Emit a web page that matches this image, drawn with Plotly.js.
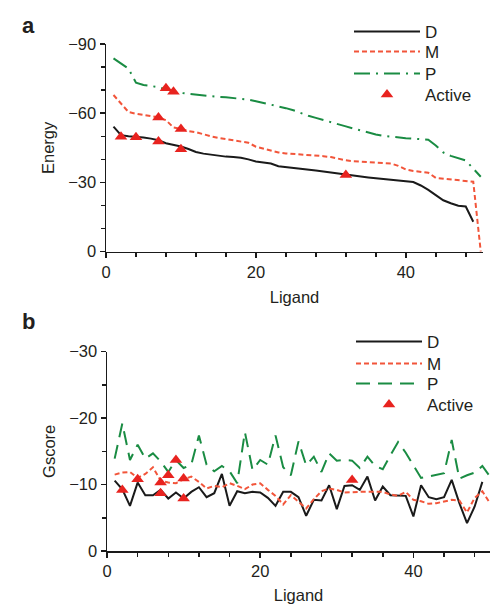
<!DOCTYPE html>
<html>
<head>
<meta charset="utf-8">
<script src="https://cdn.plot.ly/plotly-3.0.1.min.js"></script>
<style>
html,body{margin:0;padding:0;background:#fff;}
#chart{width:495px;height:604px;}
</style>
</head>
<body>
<div id="chart"></div>
<script>
// ---------- Panel a : Energy ----------
const ligandD = [1,2,3,4,5,6,7,8,9,10,11,12,13,14,15,16,17,18,19,20,21,22,23,24,25,26,27,28,29,30,31,32,33,34,35,36,37,38,39,40,41,42,43,44,45,46,47,48,49];
const ligandMP = [1,2,3,4,5,6,7,8,9,10,11,12,13,14,15,16,17,18,19,20,21,22,23,24,25,26,27,28,29,30,31,32,33,34,35,36,37,38,39,40,41,42,43,44,45,46,47,48,49,50];

const energyD = [-54.2,-50.5,-50.0,-49.8,-49.5,-49.0,-48.3,-47.0,-46.3,-45.6,-44.5,-43.2,-42.5,-42.0,-41.6,-41.2,-41.0,-40.7,-40.0,-39.1,-38.7,-38.2,-37.0,-36.7,-36.3,-36.0,-35.6,-35.2,-34.8,-34.3,-33.8,-33.3,-33.0,-32.6,-32.2,-31.9,-31.6,-31.3,-31.0,-30.7,-30.2,-28.7,-26.8,-24.5,-22.3,-21.0,-19.9,-19.6,-13.0];
const energyM = [-67.9,-64.0,-60.5,-59.8,-59.3,-58.7,-58.2,-57.0,-53.8,-53.2,-52.3,-51.8,-50.8,-50.0,-49.3,-48.8,-48.2,-47.7,-47.2,-45.5,-44.7,-43.8,-43.0,-42.6,-42.4,-42.2,-42.0,-41.7,-41.4,-41.0,-40.2,-39.6,-39.2,-39.0,-38.8,-38.6,-38.4,-38.2,-37.2,-35.6,-35.0,-34.6,-34.2,-32.0,-31.6,-31.2,-30.8,-30.5,-30.3,0];
const energyP = [-83.8,-81.5,-79.3,-73.2,-72.2,-71.8,-71.3,-70.4,-69.6,-68.8,-68.4,-68.0,-67.7,-67.4,-67.1,-66.9,-66.6,-66.4,-65.9,-65.2,-64.5,-63.7,-62.9,-62.2,-61.3,-60.0,-58.9,-58.0,-57.0,-56.0,-55.0,-54.3,-53.4,-52.5,-51.6,-50.8,-50.2,-49.8,-49.5,-49.2,-49.0,-48.8,-48.5,-46.0,-43.0,-41.5,-40.5,-39.5,-36.0,-32.5];
const activeXTop = [2,4,7,7,8,9,10,10,32];
const activeYTop = [-49.8,-49.6,-47.7,-58.2,-70.8,-69.3,-53.2,-44.4,-33.2];

// ---------- Panel b : Gscore ----------
const gscoreD = [-10.6,-9.3,-6.8,-10.3,-8.4,-8.4,-9.2,-7.9,-8.8,-7.9,-8.9,-9.6,-8.1,-8.7,-11.6,-6.8,-9.0,-8.7,-8.9,-8.8,-8.0,-6.8,-8.9,-8.9,-8.1,-5.3,-7.7,-7.6,-9.9,-6.3,-9.8,-9.9,-9.2,-11.2,-7.6,-9.7,-8.4,-8.3,-8.3,-5.2,-9.9,-8.1,-7.8,-8.1,-10.7,-7.2,-4.2,-6.7,-10.4];
const gscoreM = [-11.5,-11.8,-11.9,-11.0,-11.6,-12.6,-10.6,-10.3,-10.2,-10.8,-11.2,-10.4,-9.4,-9.8,-9.6,-10.2,-9.8,-9.3,-10.0,-10.2,-9.2,-8.3,-7.0,-8.4,-7.4,-6.4,-7.8,-9.0,-9.4,-9.2,-8.8,-8.9,-8.9,-8.9,-8.9,-8.9,-8.5,-8.3,-8.9,-7.7,-7.5,-7.1,-7.2,-7.4,-7.7,-7.6,-5.8,-8.0,-9.0,-7.2];
const gscoreP = [-13.9,-19.2,-13.7,-16.0,-13.9,-14.7,-13.5,-11.9,-13.7,-12.5,-13.0,-17.4,-13.0,-12.0,-12.8,-12.0,-10.2,-17.9,-12.2,-13.7,-13.0,-17.4,-12.6,-11.4,-16.5,-12.9,-14.2,-11.9,-14.7,-13.6,-13.7,-13.6,-12.5,-14.2,-12.8,-12.3,-14.4,-16.4,-14.8,-12.9,-11.0,-11.2,-11.4,-11.7,-16.7,-10.9,-11.4,-11.8,-12.8,-11.2];
const activeXBottom = [2,4,7,7,8,9,10,10,32];
const activeYBottom = [-9.2,-10.8,-10.3,-8.7,-11.4,-13.7,-10.9,-7.9,-10.7];

const seriesNames = ['D','M','P','Active'];
const panelLabels = ['a','b'];

const BLACK = '#1a1a1a';
const RED = '#f2553a';
const GREEN = '#1a8c43';
const TRI = '#e8231f';
const FONT = 'Liberation Sans, Arial, sans-serif';
const TXT = '#231f20';
const W = 495, H = 604;

function px(xp){return xp/W;}
function py(yp){return 1 - yp/H;}

const traces = [
  {x: ligandD, y: energyD, name: seriesNames[0], mode:'lines', line:{color:BLACK,width:2}, xaxis:'x', yaxis:'y', legend:'legend'},
  {x: ligandMP, y: energyM, name: seriesNames[1], mode:'lines', line:{color:RED,width:2,dash:'5px,3px'}, xaxis:'x', yaxis:'y', legend:'legend2'},
  {x: ligandMP, y: energyP, name: seriesNames[2], mode:'lines', line:{color:GREEN,width:2,dash:'16px,6px,2px,6px'}, xaxis:'x', yaxis:'y', legend:'legend3'},
  {x: activeXTop, y: activeYTop, name: seriesNames[3], mode:'markers', marker:{symbol:'triangle-up',size:11,color:TRI}, xaxis:'x', yaxis:'y', legend:'legend4'},
  {x: ligandD, y: gscoreD, name: seriesNames[0], mode:'lines', line:{color:BLACK,width:2}, xaxis:'x2', yaxis:'y2', legend:'legend5'},
  {x: ligandMP, y: gscoreM, name: seriesNames[1], mode:'lines', line:{color:RED,width:2,dash:'5px,3px'}, xaxis:'x2', yaxis:'y2', legend:'legend6'},
  {x: ligandMP, y: gscoreP, name: seriesNames[2], mode:'lines', line:{color:GREEN,width:2,dash:'14px,8px'}, xaxis:'x2', yaxis:'y2', legend:'legend7'},
  {x: activeXBottom, y: activeYBottom, name: seriesNames[3], mode:'markers', marker:{symbol:'triangle-up',size:11,color:TRI}, xaxis:'x2', yaxis:'y2', legend:'legend8'}
];

const axCommon = {
  showline:true, linecolor:BLACK, linewidth:1.5, ticks:'outside', ticklen:5, tickwidth:1.5, tickcolor:BLACK,
  showgrid:false, zeroline:false, tickfont:{family:FONT,size:16.5,color:TXT}
};
const titleFont = {family:FONT,size:16.5,color:TXT};
const minorX = {dtick:4, ticks:'outside', ticklen:4, tickwidth:1.5, tickcolor:BLACK, showgrid:false};

const legCommon = {
  font:{family:FONT,size:17,color:TXT}, bgcolor:'rgba(0,0,0,0)', borderwidth:0,
  xanchor:'left', yanchor:'top', itemwidth:66, tracegroupgap:0, itemclick:false
};

const layout = {
  width:W, height:H, margin:{l:0,r:0,t:0,b:0}, paper_bgcolor:'#fff', plot_bgcolor:'#fff',
  showlegend:true, hovermode:false,
  xaxis: Object.assign({}, axCommon, {domain:[px(106),px(483)], range:[0,50.3], anchor:'y', dtick:20, tick0:0,
    minor:minorX, title:{text:'Ligand', font:titleFont, standoff:11}}),
  yaxis: Object.assign({}, axCommon, {domain:[py(251.7),py(44)], range:[0,-90], anchor:'x', dtick:30, tick0:0,
    minor:{dtick:10, ticks:'outside', ticklen:4, tickwidth:1.5, tickcolor:BLACK, showgrid:false},
    title:{text:'Energy', font:titleFont, standoff:9}}),
  xaxis2: Object.assign({}, axCommon, {domain:[px(107),px(490)], range:[0,50], anchor:'y2', dtick:20, tick0:0,
    minor:minorX, title:{text:'Ligand', font:titleFont, standoff:10}}),
  yaxis2: Object.assign({}, axCommon, {domain:[py(551),py(351.7)], range:[0,-30], anchor:'x2', dtick:10, tick0:0,
    minor:{dtick:5, ticks:'outside', ticklen:4, tickwidth:1.5, tickcolor:BLACK, showgrid:false},
    title:{text:'Gscore', font:titleFont, standoff:9}}),
  annotations:[
    {text:'<b>'+panelLabels[0]+'</b>', xref:'paper', yref:'paper', x:px(20), y:py(25), xanchor:'left', yanchor:'middle', showarrow:false, font:{family:FONT,size:22,color:TXT}},
    {text:'<b>'+panelLabels[1]+'</b>', xref:'paper', yref:'paper', x:px(20), y:py(322), xanchor:'left', yanchor:'middle', showarrow:false, font:{family:FONT,size:22,color:TXT}}
  ]
};

// legend item vertical centres (pixels) for each panel
const legendTopPx = [14, 34, 56, 77, 324, 346, 366, 387];
const legendLeftPx = [349, 349, 349, 349, 351, 351, 351, 351];
legendTopPx.forEach((t, i) => {
  const key = i === 0 ? 'legend' : 'legend' + (i + 1);
  layout[key] = Object.assign({}, legCommon, {x: px(legendLeftPx[i]), y: py(t)});
});

Plotly.newPlot('chart', traces, layout, {staticPlot:true, displayModeBar:false});
</script>
</body>
</html>
